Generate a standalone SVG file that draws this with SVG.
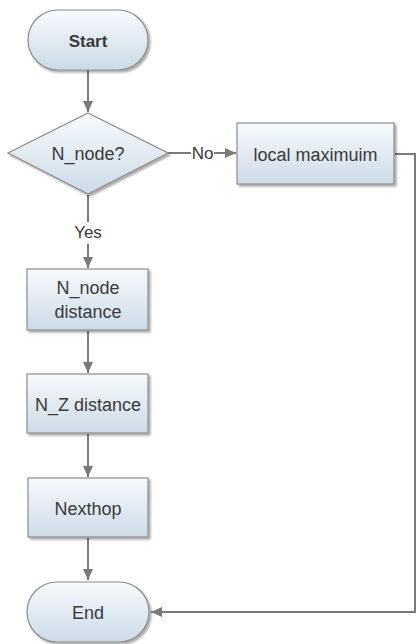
<svg xmlns="http://www.w3.org/2000/svg" width="416" height="644" viewBox="0 0 416 644">
<defs>
<linearGradient id="g" x1="0" y1="0" x2="0" y2="1">
<stop offset="0" stop-color="#f7fafc"/>
<stop offset="1" stop-color="#ccdbe8"/>
</linearGradient>
<marker id="ah" markerWidth="11" markerHeight="10" refX="11" refY="5" orient="auto" markerUnits="userSpaceOnUse">
<path d="M0,0 L11,5 L0,10 Z" fill="#7a7a7a"/>
</marker>
<filter id="sh" x="-10%" y="-10%" width="130%" height="130%">
<feDropShadow dx="2" dy="2" stdDeviation="1" flood-color="#000" flood-opacity="0.35"/>
</filter>
</defs>
<style>
.n{fill:url(#g);stroke:#8c8c8c;stroke-width:1.2;filter:url(#sh)}
.t{font-family:"Liberation Sans",Arial,sans-serif;font-size:18px;fill:#3a3a3a;text-anchor:middle}
.b{font-family:"Liberation Sans",Arial,sans-serif;font-size:17px;font-weight:bold;fill:#3a3a3a;text-anchor:middle}
.c{fill:none;stroke:#7a7a7a;stroke-width:2}
.l{font-family:"Liberation Sans",Arial,sans-serif;font-size:17px;fill:#3a3a3a;text-anchor:middle}
</style>
<rect width="416" height="644" fill="#fff"/>
<g id="connectors">
<path class="c" d="M88,70 V112" marker-end="url(#ah)"/>
<path class="c" d="M168,153 H191 M214,153 H236" marker-end="url(#ah)"/>
<text class="l" x="202.5" y="159">No</text>
<path class="c" d="M88,195 V222 M88,244 V268" marker-end="url(#ah)"/>
<text class="l" x="88" y="238">Yes</text>
<path class="c" d="M88,331 V373" marker-end="url(#ah)"/>
<path class="c" d="M88,434 V477" marker-end="url(#ah)"/>
<path class="c" d="M88,538 V580" marker-end="url(#ah)"/>
<path class="c" d="M395,154 H415 V612 H151" marker-end="url(#ah)"/>
</g>
<g id="start">
<rect class="n" x="28" y="10" width="120" height="60" rx="30"/>
<text class="b" x="88" y="47">Start</text>
</g>
<g id="decision">
<polygon class="n" points="88,113 168,153 88,194 8,153"/>
<text class="t" x="88" y="160">N_node?</text>
</g>
<g id="localmax">
<rect class="n" x="237" y="123" width="157" height="61"/>
<text class="t" x="315.5" y="161">local maximuim</text>
</g>
<g id="nnode">
<rect class="n" x="27" y="269" width="121" height="61"/>
<text class="t" x="88" y="294">N_node</text>
<text class="t" x="88" y="318">distance</text>
</g>
<g id="nz">
<rect class="n" x="27" y="374" width="121" height="59"/>
<text class="t" x="88" y="411">N_Z distance</text>
</g>
<g id="nexthop">
<rect class="n" x="28" y="478" width="120" height="59"/>
<text class="t" x="88" y="515">Nexthop</text>
</g>
<g id="end">
<rect class="n" x="27" y="582" width="122" height="60" rx="30"/>
<text class="t" x="88" y="619">End</text>
</g>
</svg>
